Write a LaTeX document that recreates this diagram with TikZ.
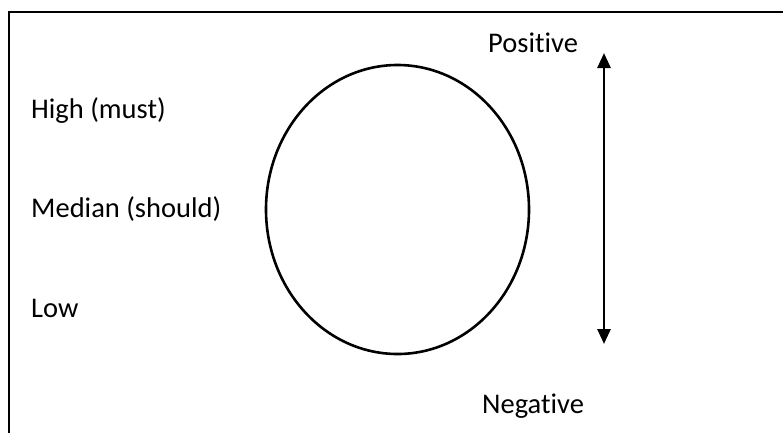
\documentclass[tikz,border=0pt]{standalone}
\usepackage{fontspec}
\setmainfont{Carlito}[Ligatures={NoCommon}]
\usetikzlibrary{arrows.meta,shapes.geometric}
\begin{document}
\begin{tikzpicture}[x=1pt,y=-1pt,
  lbl/.style={anchor=base west,inner sep=0pt,font=\fontsize{28.5}{34}\selectfont},
  ring/.style={draw,ellipse,line width=2.6pt,inner sep=0pt,minimum width=263pt,minimum height=289pt},
  scalearrow/.style={line width=2.6pt,{Triangle[width=13pt,length=15pt]}-{Triangle[width=13pt,length=15pt]}}]
\useasboundingbox (0,0) rectangle (783,432);
\draw[line width=2.6pt] (800,12) -- (9,12) -- (9,450);
\node[ring] (ell) at (397.5,209.5) {};
\node[lbl] (high) at (31,118) {High (must)};
\node[lbl] (med) at (31,217) {Median (should)};
\node[lbl] (low) at (31,317) {Low};
\node[lbl] (pos) at (488,52) {Positive};
\node[lbl] (neg) at (482,413) {Negative};
\coordinate (atop) at (604,53);
\coordinate (abot) at (604,344);
\draw[scalearrow] (atop) -- (abot);
\end{tikzpicture}
\end{document}
